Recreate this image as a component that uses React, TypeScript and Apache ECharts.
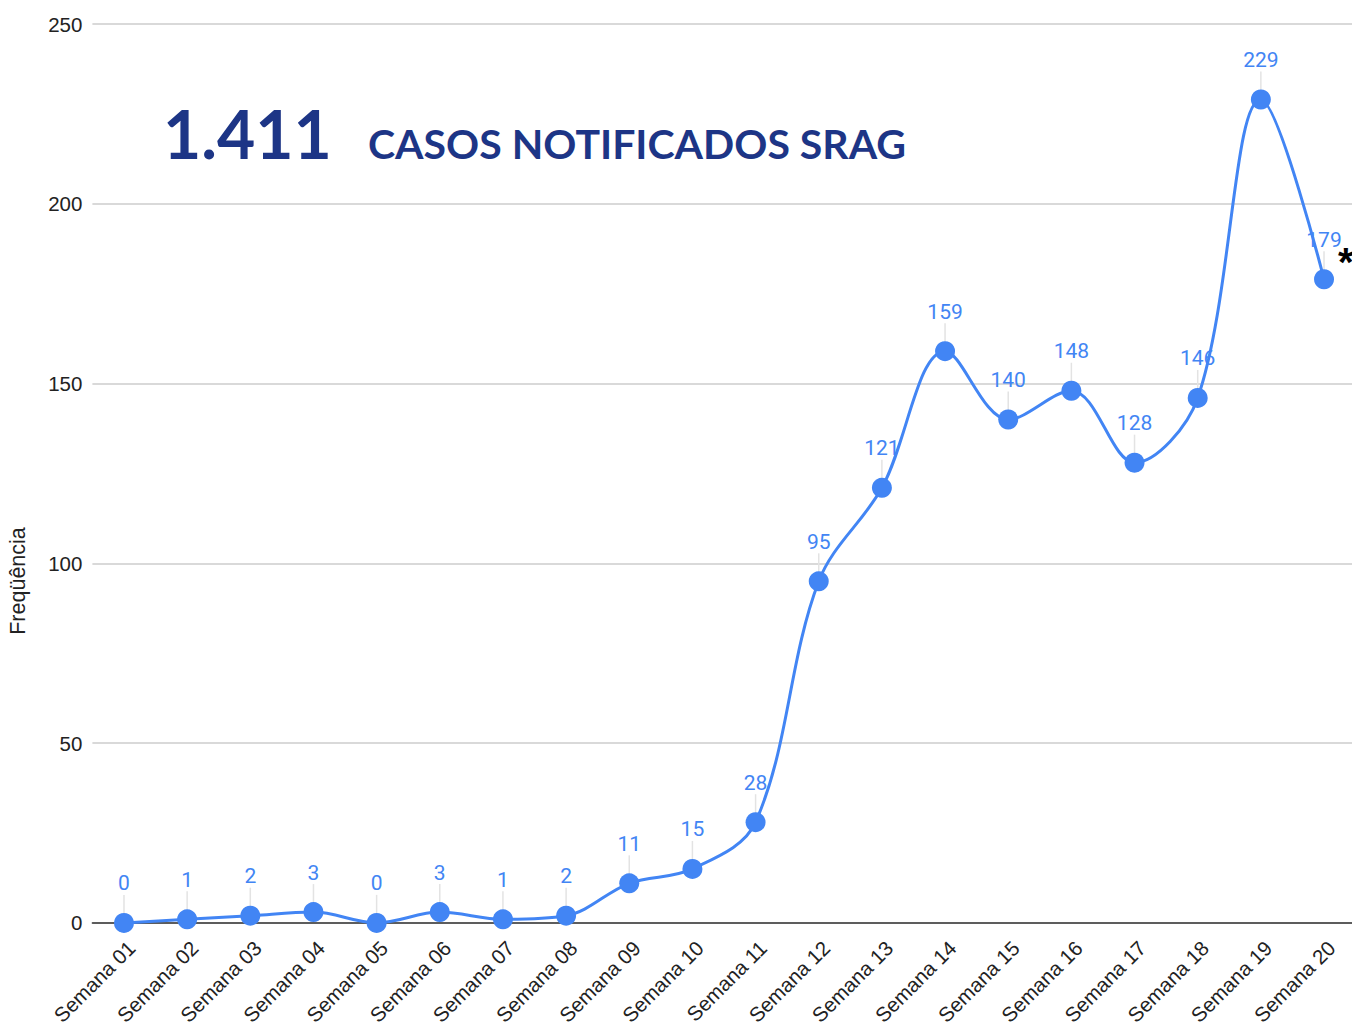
import React, { useEffect, useRef } from "react";
import * as echarts from "echarts";

const categories = [
  "Semana 01", "Semana 02", "Semana 03", "Semana 04", "Semana 05",
  "Semana 06", "Semana 07", "Semana 08", "Semana 09", "Semana 10",
  "Semana 11", "Semana 12", "Semana 13", "Semana 14", "Semana 15",
  "Semana 16", "Semana 17", "Semana 18", "Semana 19", "Semana 20",
];
const casos = [0, 1, 2, 3, 0, 3, 1, 2, 11, 15, 28, 95, 121, 159, 140, 148, 128, 146, 229, 179];
const totalText = "1.411";
const headline = "CASOS NOTIFICADOS SRAG";
const yAxisName = "Freqüência";

export default function App() {
  const ref = useRef<HTMLDivElement>(null);
  useEffect(() => {
    if (!ref.current) return;
    const chart = echarts.init(ref.current, undefined, { renderer: "svg" });
    const blue = "#4285f4";
    chart.setOption({
      animation: false,
      backgroundColor: "#fff",
      grid: { left: 92.4, top: 24, width: 1263.2, height: 899 },
      xAxis: {
        type: "category",
        data: categories,
        boundaryGap: true,
        axisLine: { show: true, lineStyle: { color: "#333", width: 1.5 } },
        axisTick: { show: false },
        axisLabel: {
          rotate: 45,
          interval: 0,
          margin: 14,
          verticalAlign: "top",
          color: "#222",
          fontSize: 20.5,
          fontFamily: "Liberation Sans",
        },
      },
      yAxis: {
        type: "value",
        min: 0,
        max: 250,
        interval: 50,
        axisLine: { show: false },
        axisTick: { show: false },
        axisLabel: { color: "#222", fontSize: 20.5, margin: 10, fontFamily: "Liberation Sans" },
        splitLine: { lineStyle: { color: "#cccccc", width: 1.5 } },
      },
      series: [
        {
          type: "custom",
          data: casos.map((v, i) => [i, v]),
          z: 1,
          renderItem: (params: any, api: any) => {
            const p = api.coord([api.value(0), api.value(1)]);
            return {
              type: "line",
              shape: { x1: p[0], y1: p[1] - 8, x2: p[0], y2: p[1] - 28 },
              style: { stroke: "#e3e3e3", lineWidth: 1.5 },
            };
          },
          silent: true,
        },
        {
          type: "line",
          data: casos,
          smooth: 0.35,
          symbol: "circle",
          symbolSize: 20,
          z: 3,
          lineStyle: { color: blue, width: 3 },
          itemStyle: { color: blue },
          label: {
            show: true,
            position: "top",
            distance: 19,
            color: blue,
            fontSize: 21,
            fontFamily: "Roboto",
          },
        },
      ],
      graphic: [
        {
          type: "text",
          x: 18,
          y: 581,
          rotation: Math.PI / 2,
          style: {
            text: yAxisName,
            font: "21.5px Liberation Sans",
            fill: "#222",
            align: "center",
            verticalAlign: "middle",
          },
        },
        {
          type: "text",
          left: 163,
          top: 100,
          style: {
            text: totalText,
            font: "bold 66px Lato",
            fill: "#1d3586",
          },
        },
        {
          type: "text",
          left: 368,
          top: 123,
          style: {
            text: headline,
            font: "bold 41px Lato",
            fill: "#1d3586",
          },
        },
        {
          type: "text",
          left: 1338,
          top: 242,
          style: {
            text: "*",
            font: "bold 40px Liberation Sans",
            fill: "#000",
          },
        },
      ],
    });
    return () => chart.dispose();
  }, []);
  return (
    <div
      ref={ref}
      style={{ position: "fixed", left: 0, top: 0, width: 1360, height: 1028 }}
    />
  );
}
